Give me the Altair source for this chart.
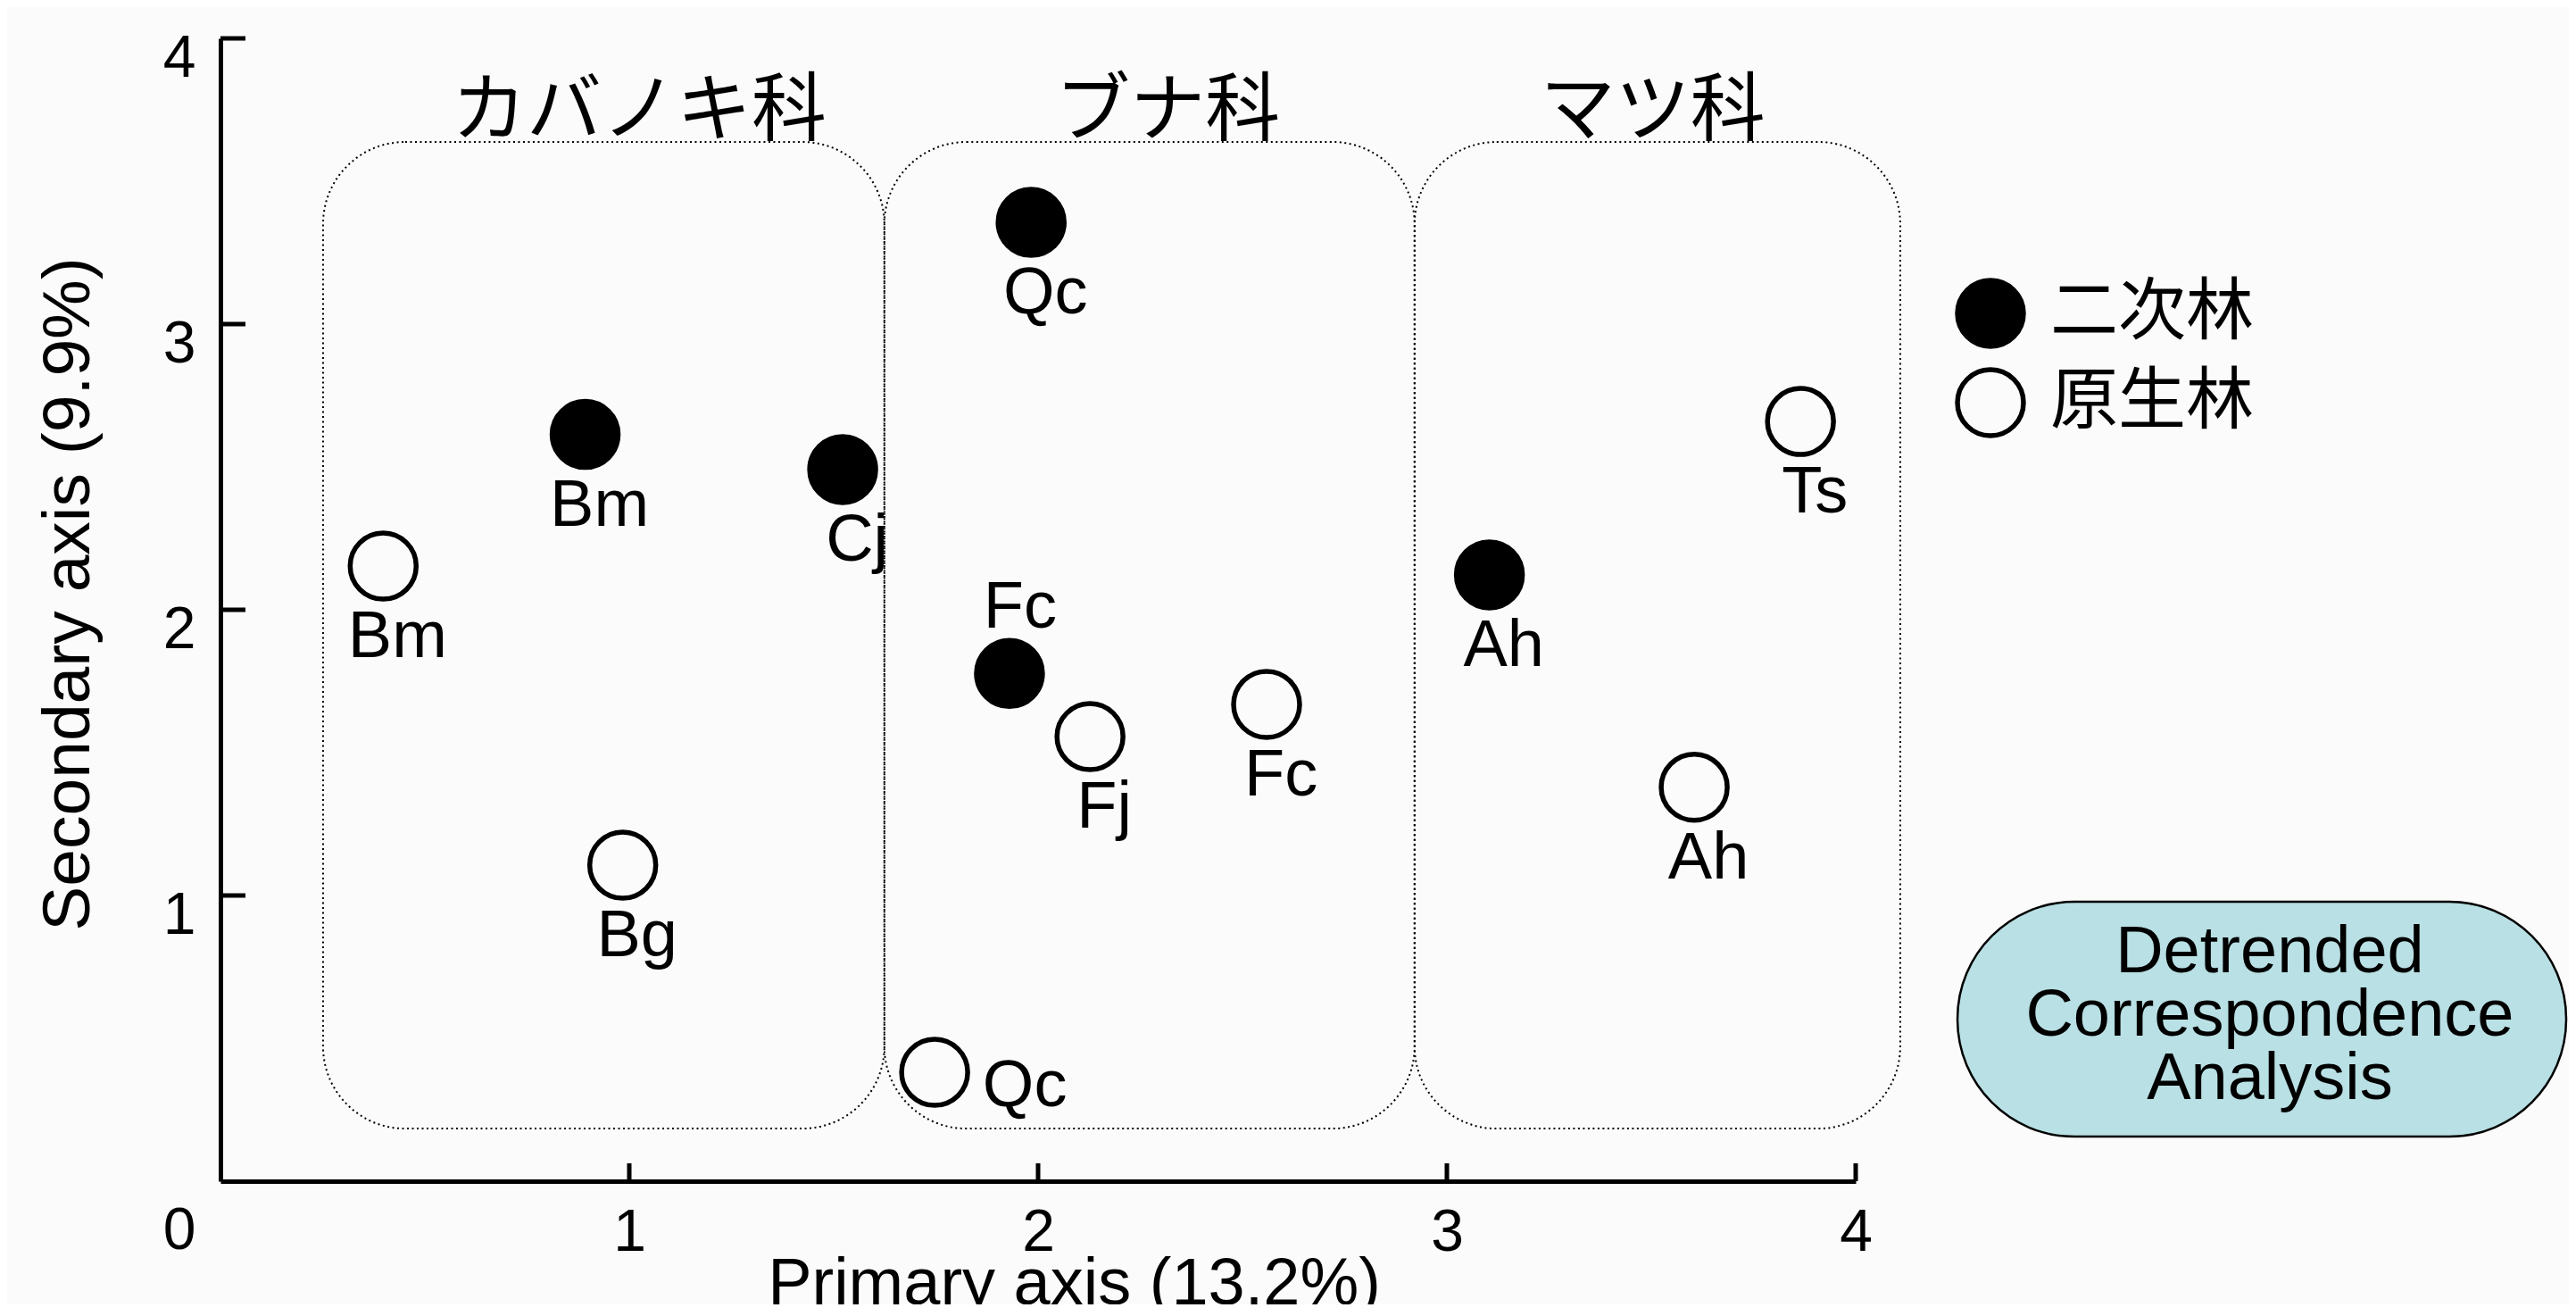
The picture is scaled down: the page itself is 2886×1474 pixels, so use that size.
import altair as alt
import pandas as pd

BG = "#fbfbfb"
LAT = "Liberation Sans"
CJK = "Noto Sans CJK JP"
W, H = 1832, 1280

# ---- data ----
species = ["Bm", "Cj", "Qc", "Fc", "Ah", "Bm", "Bg", "Qc", "Fj", "Fc", "Ah", "Ts"]
forest = ["二次林", "二次林", "二次林", "二次林", "二次林",
          "原生林", "原生林", "原生林", "原生林", "原生林", "原生林", "原生林"]
x_vals = [0.892, 1.522, 1.983, 1.930, 3.104, 0.398, 0.984, 1.747, 2.127, 2.559, 3.605, 3.865]
y_vals = [2.614, 2.491, 3.356, 1.777, 2.122, 2.153, 1.106, 0.381, 1.556, 1.669, 1.379, 2.659]
label_pos = ["below", "below", "below", "above", "below", "below", "below", "right",
             "below", "below", "below", "below"]

forest_order = ["二次林", "原生林"]

families = ["カバノキ科", "ブナ科", "マツ科"]
box_x0 = [0.251, 1.624, 2.921]
box_x1 = [1.624, 2.921, 4.109]
box_y0 = [0.184, 0.184, 0.184]
box_y1 = [3.6375, 3.6375, 3.6375]
fam_title_x = [1.024, 2.317, 3.504]
fam_title_y = [3.74, 3.74, 3.74]

tick_values = [1, 2, 3, 4]

note_text = ["Detrended\nCorrespondence\nAnalysis"]
note_x0, note_x1 = [4.249], [5.738]
note_y0, note_y1 = [0.156], [0.978]
note_cx, note_cy = [5.013], [0.578]

# ---- tables ----
pts = pd.DataFrame({"sp": species, "forest": forest, "x": x_vals, "y": y_vals, "pos": label_pos})
boxes = pd.DataFrame({"fam": families, "x": box_x0, "x2": box_x1, "y": box_y0, "y2": box_y1})
fam_titles = pd.DataFrame({"fam": families, "x": fam_title_x, "y": fam_title_y})
xticks = pd.DataFrame({"x": tick_values})
yticks = pd.DataFrame({"y": tick_values})
note_box = pd.DataFrame({"x": note_x0, "x2": note_x1, "y": note_y0, "y2": note_y1})
note_lbl = pd.DataFrame({"t": note_text, "x": note_cx, "y": note_cy})
zero_lbl = pd.DataFrame({"t": ["0"], "x": [0], "y": [0]})

xs = alt.Scale(domain=[0, 4], nice=False, zero=False)
ys = alt.Scale(domain=[0, 4], nice=False, zero=False)

ax_x = alt.Axis(
    title="Primary axis (13.2%)", values=tick_values, ticks=False, tickSize=0, grid=False,
    domainColor="black", domainWidth=5, labelFont=LAT, labelFontSize=66, labelColor="black",
    labelBaseline="alphabetic", labelPadding=77, labelAngle=0, labelFlush=False,
    labelOverlap=False, format="d",
    titleFont=LAT, titleFontSize=74, titleFontWeight="normal", titleColor="black",
    titleX=956, titleY=137, titleAlign="center", titleBaseline="alphabetic",
)
ax_y = alt.Axis(
    title="Secondary axis (9.9%)", values=tick_values, ticks=False, tickSize=0, grid=False,
    domainColor="black", domainWidth=5, labelFont=LAT, labelFontSize=66, labelColor="black",
    labelAlign="right", labelBaseline="middle", labelPadding=28, labelOffset=22,
    labelFlush=False, labelOverlap=False, format="d",
    titleFont=LAT, titleFontSize=75, titleFontWeight="normal", titleColor="black",
    titleAngle=270, titleX=-148, titleY=622, titleAlign="center", titleBaseline="alphabetic",
)


def X(f="x"):
    return alt.X(f"{f}:Q", scale=xs, axis=ax_x)


def Y(f="y"):
    return alt.Y(f"{f}:Q", scale=ys, axis=ax_y)


box_layer = alt.Chart(boxes).mark_rect(
    cornerRadius=92, fillOpacity=0, stroke="black", strokeWidth=2, strokeDash=[2, 3.5]
).encode(x=X(), x2="x2:Q", y=Y(), y2="y2:Q")

fam_layer = alt.Chart(fam_titles).mark_text(
    font=CJK, fontSize=84, color="black", align="center", baseline="middle"
).encode(x=X(), y=Y(), text="fam:N")

point_layer = alt.Chart(pts).mark_circle(
    size=5476, stroke="black", strokeWidth=5.5, opacity=1
).encode(
    x=X(), y=Y(),
    fill=alt.Fill(
        "forest:N",
        scale=alt.Scale(domain=forest_order, range=["black", BG]),
        legend=alt.Legend(
            title=None, orient="none", legendX=1943, legendY=268, direction="vertical",
            symbolType="circle", symbolSize=5476, symbolStrokeColor="black",
            symbolStrokeWidth=5.5, symbolOpacity=1, labelFont=CJK, labelFontSize=76,
            labelColor="black", labelOffset=27, labelLimit=600, rowPadding=4, padding=0,
        ),
    ),
)


def label_layer(pos, dx, dy):
    return alt.Chart(pts).transform_filter(alt.datum.pos == pos).mark_text(
        font=LAT, fontSize=74, color="black", align="center", baseline="middle", dx=dx, dy=dy
    ).encode(x=X(), y=Y(), text="sp:N")


lab_below = label_layer("below", 16, 80)
lab_above = label_layer("above", 12, -73)
lab_right = label_layer("right", 101, 16)

xtick_layer = alt.Chart(xticks).mark_rule(color="black", strokeWidth=5).encode(
    x=X(), y=alt.value(H), y2=alt.value(H - 20)
)
ytick_layer = alt.Chart(yticks).mark_rule(color="black", strokeWidth=5).encode(
    y=Y(), x=alt.value(0), x2=alt.value(28)
)

note_rect = alt.Chart(note_box).mark_rect(
    cornerRadius=131, fill="#b9e0e4", stroke="black", strokeWidth=2.5
).encode(x=X(), x2="x2:Q", y=Y(), y2="y2:Q")

# Vega anchors the first line of a multi-line text: lift it by one line so the block is centred
note_text_layer = alt.Chart(note_lbl).mark_text(
    font=LAT, fontSize=74, color="black", align="center", baseline="middle",
    lineBreak="\n", lineHeight=71, dy=-71
).encode(x=X(), y=Y(), text="t:N")

zero_layer = alt.Chart(zero_lbl).mark_text(
    font=LAT, fontSize=66, color="black", align="center", baseline="middle", dx=-46, dy=56
).encode(x=X(), y=Y(), text="t:N")

chart = alt.layer(
    box_layer, fam_layer, point_layer, lab_below, lab_above, lab_right,
    xtick_layer, ytick_layer, note_rect, note_text_layer, zero_layer
).properties(
    width=W, height=H, background=BG,
    autosize=alt.AutoSizeParams(type="none"),
    padding={"left": 239, "top": 35, "right": 799, "bottom": 138},
).configure_view(strokeWidth=0)

chart.save("out.html", embed_options={"renderer": "svg", "actions": False})
